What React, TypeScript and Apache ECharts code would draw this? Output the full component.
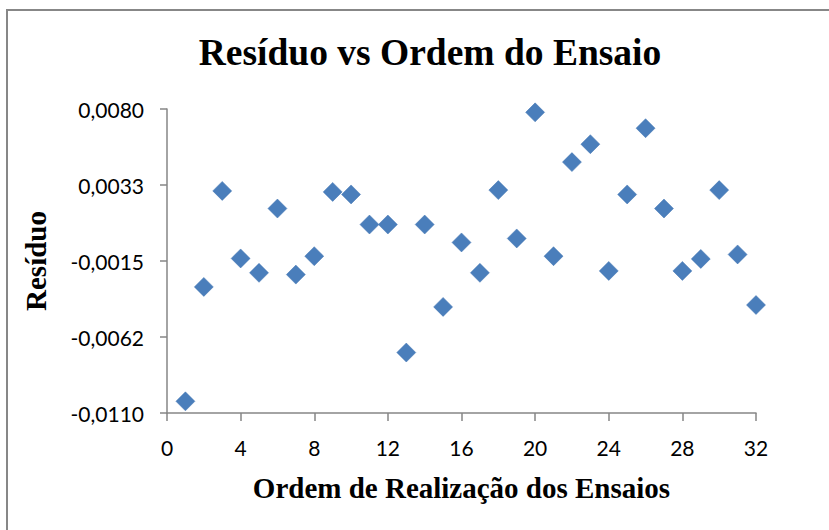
import React, { useEffect, useRef } from "react";
import * as echarts from "echarts";

const titleText = "Resíduo vs Ordem do Ensaio";
const xAxisName = "Ordem de Realização dos Ensaios";
const yAxisName = "Resíduo";

const runOrder = [1, 2, 3, 4, 5, 6, 7, 8, 9, 10, 11, 12, 13, 14, 15, 16, 17, 18, 19, 20, 21, 22, 23, 24, 25, 26, 27, 28, 29, 30, 31, 32];
const residuals = [
  -0.01027, -0.00312, 0.00288, -0.00134, -0.00224, 0.00178, -0.00235, -0.0012,
  0.00282, 0.00266, 0.00078, 0.00078, -0.00722, 0.00078, -0.00437, -0.00034,
  -0.00224, 0.00293, -0.00009, 0.00779, -0.0012, 0.00468, 0.0058, -0.00212,
  0.00266, 0.0068, 0.00178, -0.00212, -0.00137, 0.00293, -0.00109, -0.00425,
];

const yMin = -0.011;
const yMax = 0.008;
const yInterval = 0.00475;
const yTickLabels = ["-0,0110", "-0,0062", "-0,0015", "0,0033", "0,0080"];

const xMin = 0;
const xMax = 32;
const xInterval = 4;

export default function App() {
  const ref = useRef<HTMLDivElement>(null);
  useEffect(() => {
    if (!ref.current) return;
    const chart = echarts.init(ref.current, null, { renderer: "svg" });
    const axisColor = "#868686";
    chart.setOption({
      animation: false,
      backgroundColor: "#ffffff",
      title: {
        text: titleText,
        left: 425,
        textAlign: "center",
        top: 28,
        textStyle: {
          fontFamily: "Liberation Serif",
          fontWeight: "bold",
          fontSize: 37.5,
          color: "#000",
        },
      },
      graphic: [
        {
          type: "rect",
          shape: { x: 7, y: 10, width: 840, height: 540 },
          style: { fill: "none", stroke: "#878787", lineWidth: 2 },
          silent: true,
        },
      ],
      grid: { left: 167, right: 73, top: 109, bottom: 117 },
      xAxis: {
        type: "value",
        min: xMin,
        max: xMax,
        interval: xInterval,
        name: xAxisName,
        nameLocation: "middle",
        nameGap: 60,
        nameTextStyle: {
          fontFamily: "Liberation Serif",
          fontWeight: "bold",
          fontSize: 29,
          color: "#000",
        },
        axisLine: { show: true, onZero: false, lineStyle: { color: axisColor, width: 1.5 } },
        axisTick: { show: true, inside: false, length: 8, lineStyle: { color: axisColor, width: 1.5 } },
        axisLabel: { margin: 24, fontFamily: "Lato", fontSize: 21, color: "#000" },
        splitLine: { show: false },
      },
      yAxis: {
        type: "value",
        min: yMin,
        max: yMax,
        interval: yInterval,
        name: yAxisName,
        nameLocation: "middle",
        nameGap: 117,
        nameTextStyle: {
          fontFamily: "Liberation Serif",
          fontWeight: "bold",
          fontSize: 29,
          color: "#000",
        },
        axisLine: { show: true, onZero: false, lineStyle: { color: axisColor, width: 1.5 } },
        axisTick: { show: true, inside: false, length: 7, lineStyle: { color: axisColor, width: 1.5 } },
        axisLabel: {
          margin: 23,
          fontFamily: "Lato",
          fontSize: 21,
          color: "#000",
          formatter: (v: number) => {
            const i = Math.round((v - yMin) / yInterval);
            return yTickLabels[i] ?? "";
          },
        },
        splitLine: { show: false },
      },
      series: [
        {
          type: "scatter",
          data: runOrder.map((x, i) => [x, residuals[i]]),
          symbol: "diamond",
          symbolSize: 19,
          itemStyle: { color: "#4a7ebb", borderColor: "#4577b3", borderWidth: 0.5, opacity: 1 },
        },
      ],
    });
    return () => chart.dispose();
  }, []);
  return (
    <div
      ref={ref}
      style={{ position: "fixed", left: 0, top: 0, width: 829, height: 530 }}
    />
  );
}
